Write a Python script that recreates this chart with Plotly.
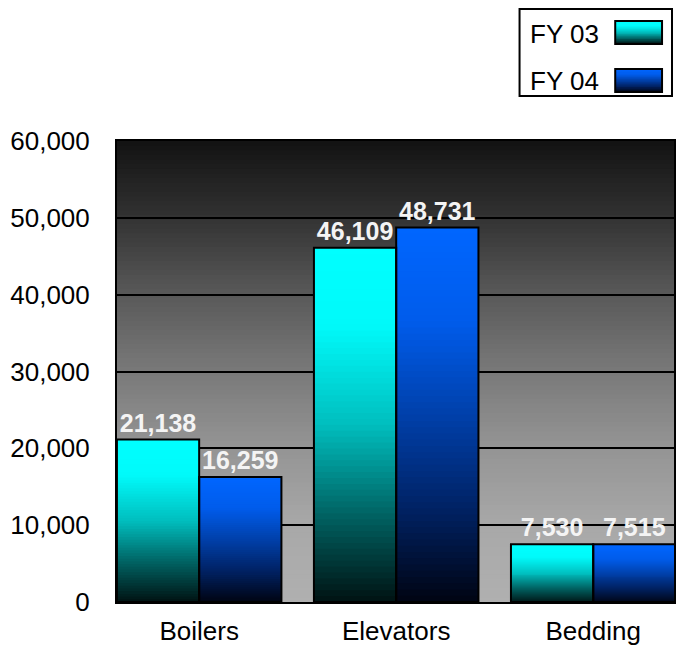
import plotly.graph_objects as go

# ---------------- data ----------------
categories = ["Boilers", "Elevators", "Bedding"]
series_names = ["FY 03", "FY 04"]
fy03 = [21138, 46109, 7530]
fy04 = [16259, 48731, 7515]
y_tick_values = [0, 10000, 20000, 30000, 40000, 50000, 60000]

series_values = [fy03, fy04]

# ---------------- styles ----------------
FONT = "Liberation Sans, Arial, sans-serif"
# gradient stops: (t from top of bar, (r,g,b))
grad_stops = [
    [(0.0, (0, 255, 255)), (0.22, (0, 250, 250)), (0.5, (0, 190, 190)),
     (0.75, (0, 100, 100)), (1.0, (0, 18, 18))],
    [(0.0, (0, 102, 255)), (0.25, (0, 92, 235)), (0.5, (0, 64, 170)),
     (0.75, (0, 34, 100)), (1.0, (0, 4, 18))],
]
bg_stops = [(0.0, 18), (0.154, 48), (0.31, 84), (0.47, 116), (0.65, 146),
            (0.83, 168), (1.0, 176)]


def interp_rgb(stops, t):
    for (t0, c0), (t1, c1) in zip(stops[:-1], stops[1:]):
        if t0 <= t <= t1:
            f = (t - t0) / (t1 - t0) if t1 > t0 else 0
            return tuple(round(a + (b - a) * f) for a, b in zip(c0, c1))
    return stops[-1][1]


def interp_gray(stops, t):
    for (t0, g0), (t1, g1) in zip(stops[:-1], stops[1:]):
        if t0 <= t <= t1:
            f = (t - t0) / (t1 - t0)
            return round(g0 + (g1 - g0) * f)
    return stops[-1][1]


def rgb(c):
    return "rgb(%d,%d,%d)" % c


fig = go.Figure()

# gradient bars built from stacked slices of each value
N = 60
for s, vals in enumerate(series_values):
    for k in range(N):
        t_from_top = 1 - (k + 0.5) / N
        col = rgb(interp_rgb(grad_stops[s], t_from_top))
        bases = [v * k / N for v in vals]
        heights = [min(v * (k + 2) / N, v) - v * k / N for v in vals]
        fig.add_trace(go.Bar(
            x=categories,
            y=heights,
            base=bases,
            offsetgroup=str(s),
            marker=dict(color=col, line=dict(width=0)),
            hoverinfo="skip",
            showlegend=False,
        ))

# outlines + value labels
for s, vals in enumerate(series_values):
    fig.add_trace(go.Bar(
        x=categories,
        y=vals,
        name=series_names[s],
        offsetgroup=str(s),
        marker=dict(color="rgba(0,0,0,0)", line=dict(color="black", width=2)),
        text=[f"{v:,}" for v in vals],
        textposition="outside",
        textfont=dict(family=FONT, size=25, color="#f4f4f4", weight="bold"),
        constraintext="none",
        cliponaxis=False,
        showlegend=False,
    ))

# ---------------- background gradient ----------------
shapes = []
NB = 100
for i in range(NB):
    t_top = i / NB
    g = interp_gray(bg_stops, (i + 0.5) / NB)
    shapes.append(dict(
        type="rect", xref="x domain", yref="y domain",
        x0=0, x1=1, y0=1 - (i + 1) / NB - 0.004, y1=1 - t_top,
        fillcolor=rgb((g, g, g)), line=dict(width=0), layer="below",
    ))

# ---------------- custom legend (text left, swatch right) ----------------
L, R, T, B = 117, 676, 141, 602
W, H = R - L, B - T


def px(xp):
    return (xp - L) / W


def py(yp):
    return (B - yp) / H


shapes.append(dict(type="rect", xref="paper", yref="paper",
                   x0=px(521), x1=px(674), y0=py(96), y1=py(9),
                   fillcolor="white", line=dict(color="black", width=2),
                   layer="above"))
annotations = []
legend_rows = [(33, 617, 664, 21, 44), (80, 617, 664, 69, 92)]
for s, (yc, sx0, sx1, sy0, sy1) in enumerate(legend_rows):
    annotations.append(dict(
        x=px(529), y=py(yc + 1), xref="paper", yref="paper",
        text=series_names[s], showarrow=False, xanchor="left", yanchor="middle",
        font=dict(family=FONT, size=26, color="black"),
    ))
    NS = 14
    for k in range(NS):
        col = rgb(interp_rgb(grad_stops[s], (k + 0.5) / NS))
        y_top = sy0 + (sy1 - sy0) * k / NS
        y_bot = sy0 + (sy1 - sy0) * (k + 1) / NS + 1.0
        shapes.append(dict(type="rect", xref="paper", yref="paper",
                           x0=px(sx0), x1=px(sx1), y0=py(min(y_bot, sy1)), y1=py(y_top),
                           fillcolor=col, line=dict(width=0), layer="above"))
    shapes.append(dict(type="rect", xref="paper", yref="paper",
                       x0=px(sx0), x1=px(sx1), y0=py(sy1), y1=py(sy0),
                       fillcolor="rgba(0,0,0,0)",
                       line=dict(color="black", width=2), layer="above"))

fig.update_layout(
    width=677, height=648,
    margin=dict(l=L, r=677 - R, t=T, b=648 - B, pad=0),
    barmode="group", bargap=0.165, bargroupgap=0,
    paper_bgcolor="white", plot_bgcolor="#777777",
    shapes=shapes, annotations=annotations,
    showlegend=False,
    font=dict(family=FONT, color="black"),
)
fig.update_xaxes(
    type="category", range=[-0.417, 2.41],
    showgrid=False, showline=True, mirror=True, linecolor="black", linewidth=2,
    ticks="", tickfont=dict(family=FONT, size=26, color="black"),
    ticklabelstandoff=5,
)
fig.update_yaxes(
    range=[0, 60000], tickvals=y_tick_values, tickformat=",d",
    showgrid=True, gridcolor="black", gridwidth=2, zeroline=False,
    showline=True, mirror=True, linecolor="black", linewidth=2,
    ticks="", tickfont=dict(family=FONT, size=26, color="black"),
    ticklabelstandoff=20,
)

fig.write_html(
    "out.html",
    config={"displayModeBar": False},
    post_script="document.body.style.margin='0';document.body.style.padding='0';",
)
